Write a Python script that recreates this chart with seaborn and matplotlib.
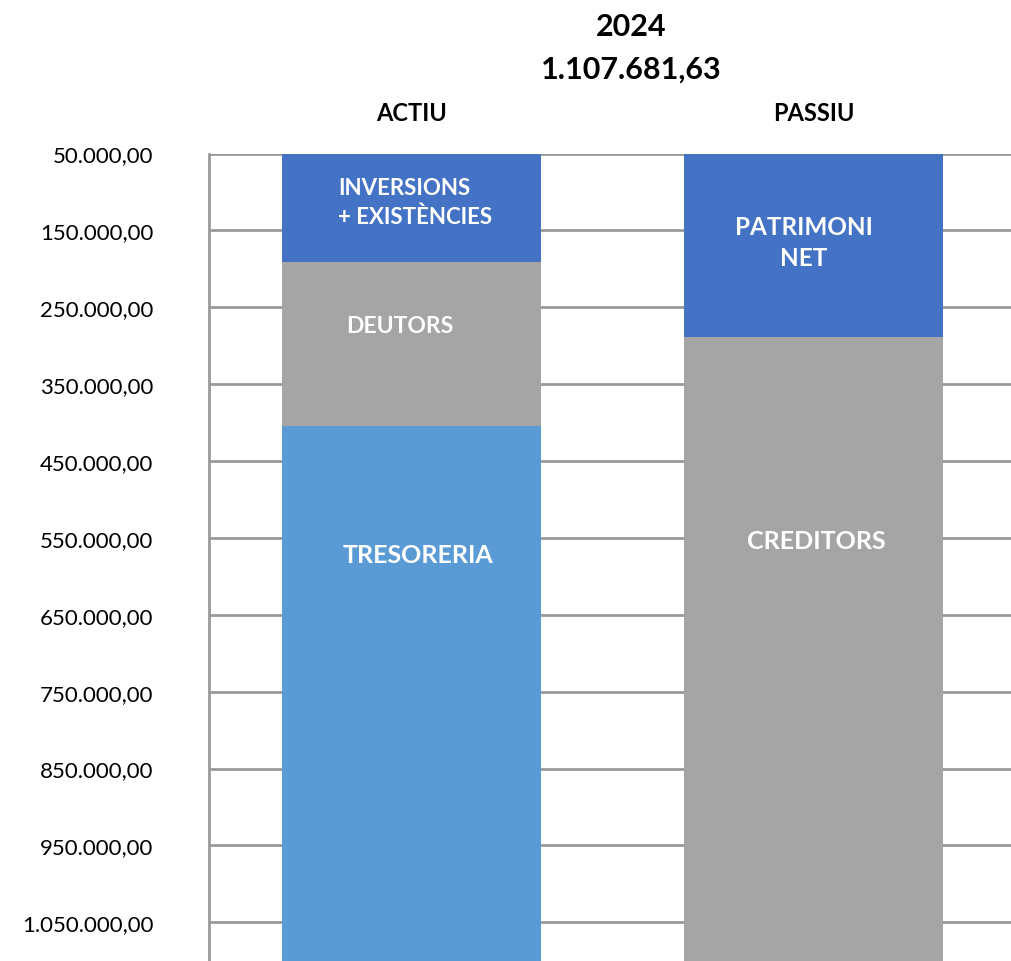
import matplotlib
matplotlib.use("Agg")
import matplotlib.pyplot as plt
import matplotlib.ticker as mticker
import seaborn as sns

# balance 2024 (valors llegits del gràfic)
categories = ["ACTIU", "PASSIU"]
actiu_parts = ["INVERSIONS\n+ EXISTÈNCIES", "DEUTORS", "TRESORERIA"]
actiu_values = [190700.0, 213750.0, 703231.63]
passiu_parts = ["PATRIMONI\nNET", "CREDITORS"]
passiu_values = [288700.0, 818981.63]
total_label = "1.107.681,63"
year_label = "2024"
tick_values = [50000, 150000, 250000, 350000, 450000, 550000,
               650000, 750000, 850000, 950000, 1050000]

actiu_colors = ["#4472C4", "#A5A5A5", "#5B9BD5"]
passiu_colors = ["#4472C4", "#A5A5A5"]
# posició del text dins de cada tram
actiu_label_y = [113000, 274000, 572000]
passiu_label_y = [165000, 553000]
actiu_label_dx = [0.009, -0.03, 0.016]
passiu_label_dx = [-0.026, 0.005]
actiu_label_size = [16, 16.5, 18]
passiu_label_size = [17.5, 18]
actiu_label_align = ["left", "center", "center"]
passiu_label_align = ["center", "center"]

sns.set_style("white")
plt.rcParams["font.family"] = ["Lato", "DejaVu Sans"]
plt.rcParams["text.color"] = "black"
plt.rcParams["ytick.color"] = "black"


def fmt(v, pos=None):
    s = f"{v:,.2f}"
    return s.replace(",", "X").replace(".", ",").replace("X", ".")


fig = plt.figure(figsize=(10.12, 9.62), dpi=100)
ax = fig.add_axes([209 / 1012, 0, 1 - 209 / 1012, 1 - 154.5 / 962])

bar_w = 0.6435
for cat, vals, cols in [("ACTIU", actiu_values, actiu_colors),
                        ("PASSIU", passiu_values, passiu_colors)]:
    cum = []
    run = 0
    for v in vals:
        run += v
        cum.append(run)
    # dibuixar de més gran a més petit per apilar
    for end, col in reversed(list(zip(cum, cols))):
        sns.barplot(x=[cat], y=[end], order=categories, color=col, saturation=1,
                    width=bar_w, ax=ax, zorder=3, edgecolor="none")

labels = [(actiu_parts, actiu_label_y, actiu_label_dx, actiu_label_size, actiu_label_align),
          (passiu_parts, passiu_label_y, passiu_label_dx, passiu_label_size, passiu_label_align)]
for cat_i, (parts, ys, dxs, sizes, aligns) in enumerate(labels):
    for txt, y, dx, s, al in zip(parts, ys, dxs, sizes, aligns):
        ax.text(cat_i + dx, y, txt, ha="center", va="center", color="white",
                fontsize=s, fontweight="bold", zorder=4, linespacing=1.45,
                multialignment=al)

ax.set_xlim(-0.503, 1.492)
ax.set_ylim(1100338, 50000)
ax.set_yticks(tick_values)
ax.yaxis.set_major_formatter(mticker.FuncFormatter(fmt))
ax.tick_params(axis="y", labelsize=16, length=0, pad=40, labelcolor="black")
ax.set_xticks([])
ax.set_xlabel("")
ax.set_ylabel("")
ax.grid(axis="y", color="#999999", linewidth=2, zorder=0)
ax.set_axisbelow(True)
for sp in ["top", "right", "bottom"]:
    ax.spines[sp].set_visible(False)
ax.spines["left"].set_color("#999999")
ax.spines["left"].set_linewidth(2)

for cat_i, cat in enumerate(categories):
    ax.text(cat_i, 1 + 41 / 807.5, cat, transform=ax.get_xaxis_transform(), ha="center",
            va="center", fontsize=17, fontweight="bold", clip_on=False)

fig.text(631 / 1012, 1 - 27 / 962, year_label, ha="center", va="center",
         fontsize=22, fontweight="bold")
fig.text(631 / 1012, 1 - 70 / 962, total_label, ha="center", va="center",
         fontsize=22, fontweight="bold")

plt.savefig("out.png", dpi=100)
